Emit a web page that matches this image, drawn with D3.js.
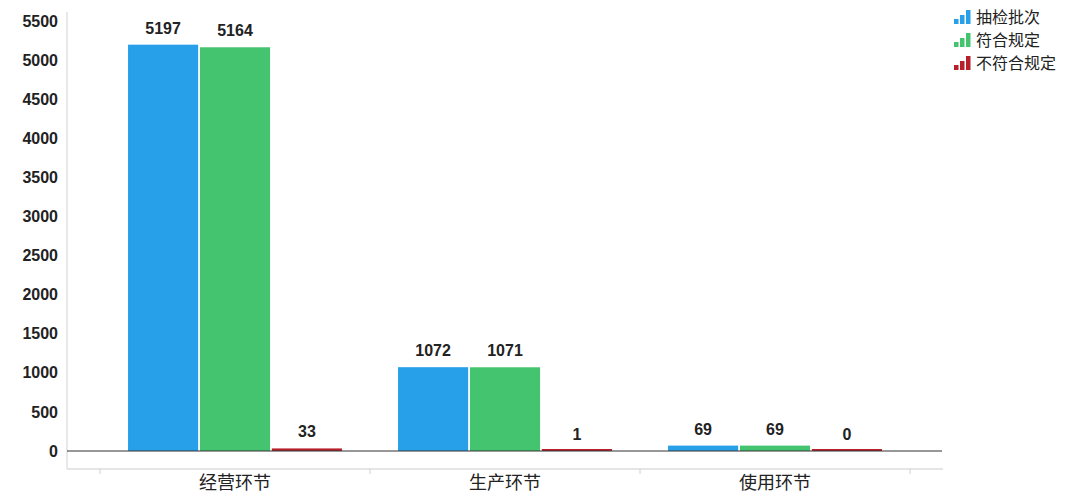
<!DOCTYPE html>
<html>
<head>
<meta charset="utf-8">
<script src="https://cdn.jsdelivr.net/npm/d3@7"></script>
<style>
  body { margin: 0; background: #fff; }
  svg { display: block; }
</style>
</head>
<body>
<svg id="chart" width="1080" height="500"></svg>
<script>
const categories = ["经营环节", "生产环节", "使用环节"];
const seriesNames = ["抽检批次", "符合规定", "不符合规定"];
const sampled = [5197, 1072, 69];
const passed = [5164, 1071, 69];
const failed = [33, 1, 0];
const yTicks = [0, 500, 1000, 1500, 2000, 2500, 3000, 3500, 4000, 4500, 5000, 5500];

const colors = ["#27a0e9", "#45c46f", "#b7202b"];
const seriesValues = [sampled, passed, failed];

const svg = d3.select("#chart");
const left = 67, right = 943, zeroY = 451;

const x = d3.scaleBand().domain(categories).range([100, 910]).paddingInner(0).paddingOuter(0);
const xs = d3.scaleBand().domain(seriesNames).range([0, x.bandwidth()]).paddingOuter(0.39).paddingInner(0.025);
const y = d3.scaleLinear().domain([0, 5500]).range([zeroY, 21]);

// left vertical line
svg.append("line")
  .attr("x1", left).attr("x2", left).attr("y1", 12).attr("y2", 469)
  .attr("stroke", "#e2e2e2").attr("stroke-width", 1.5);

// y tick labels
svg.append("g").selectAll("text").data(yTicks).enter().append("text")
  .attr("x", 58).attr("y", d => y(d)).attr("dy", "0.35em")
  .attr("text-anchor", "end")
  .style("font", "bold 16px 'Liberation Sans', Arial, sans-serif")
  .attr("fill", "#222")
  .text(d => d);

// bottom category axis
const axis = svg.append("g").attr("transform", `translate(0,469)`)
  .call(d3.axisBottom(x).tickSize(0).tickFormat(""));
axis.select(".domain").remove();
axis.append("line").attr("x1", left).attr("x2", right).attr("y1", 0).attr("y2", 0)
  .attr("stroke", "#dcdcdc").attr("stroke-width", 1.5);
const tickXs = categories.map(c => x(c)).concat([x(categories[2]) + x.bandwidth()]);
axis.selectAll(".bt").data(tickXs).enter().append("line")
  .attr("x1", d => d).attr("x2", d => d).attr("y1", 0).attr("y2", 5)
  .attr("stroke", "#d0d0d0");
svg.append("g").selectAll("text").data(categories).enter().append("text")
  .attr("x", d => x(d) + x.bandwidth() / 2).attr("y", 489)
  .attr("text-anchor", "middle")
  .style("font", "18px 'Noto Sans CJK SC', sans-serif")
  .attr("fill", "#222")
  .text(d => d);

// bars
const groups = svg.append("g").selectAll("g").data(categories).enter().append("g")
  .attr("transform", d => `translate(${x(d)},0)`);
groups.each(function(cat, ci) {
  const g = d3.select(this);
  seriesNames.forEach((s, si) => {
    const v = seriesValues[si][ci];
    const top = Math.min(y(v), zeroY - 2);
    g.append("rect")
      .attr("x", xs(s)).attr("width", xs.bandwidth())
      .attr("y", top).attr("height", zeroY - top)
      .attr("fill", colors[si]);
    g.append("text")
      .attr("x", xs(s) + xs.bandwidth() / 2).attr("y", y(v) - 11)
      .attr("text-anchor", "middle")
      .style("font", "bold 16px 'Liberation Sans', Arial, sans-serif")
      .attr("fill", "#222")
      .text(v);
  });
});

// zero line
svg.append("line")
  .attr("x1", left).attr("x2", right - 1).attr("y1", zeroY).attr("y2", zeroY)
  .attr("stroke", "#333").attr("stroke-width", 1.2);

// legend
const legend = svg.append("g").attr("transform", "translate(954,10)");
const rows = legend.selectAll("g").data(seriesNames).enter().append("g")
  .attr("transform", (d, i) => `translate(0,${i * 23})`);
const iconBars = [5, 9, 14];
rows.each(function(d, i) {
  const r = d3.select(this);
  iconBars.forEach((h, j) => {
    r.append("rect").attr("x", j * 6).attr("y", 14 - h).attr("width", 4.5).attr("height", h)
      .attr("fill", colors[i]);
  });
  r.append("text").attr("x", 22).attr("y", 7).attr("dy", "0.35em")
    .style("font", "16px 'Noto Sans CJK SC', sans-serif")
    .attr("fill", "#222")
    .text(d);
});
</script>
</body>
</html>
